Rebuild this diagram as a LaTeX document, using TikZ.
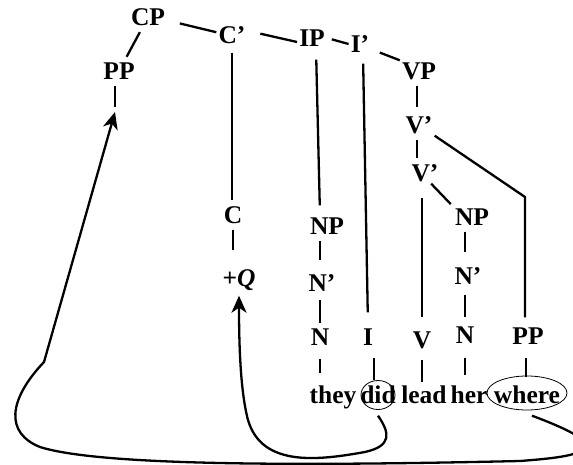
\documentclass[tikz,border=0pt]{standalone}
\usepackage{fontspec}
\setmainfont{Liberation Serif}
\usetikzlibrary{arrows.meta}

\begin{document}
\begin{tikzpicture}[x=1pt,y=-1pt]
            \tikzset{cat/.style = {font=\bfseries\fontsize{25.5}{25.5}\selectfont, inner sep=2pt, text height=17pt, text depth=0pt}}
            \tikzset{edge/.style = {draw=black, line width=2.3pt}}
            \tikzset{move/.style = {draw=black, line width=2.3pt, -{Stealth[length=17pt,width=15pt,inset=5pt]}}}
            \tikzset{gap/.style 2 args = {shorten <=#1pt, shorten >=#2pt}}
            \useasboundingbox (0,0) rectangle (573,465);
            \clip (0,0) rectangle (573,465);
            % vertices
            \node[cat] (cp) at (148,17) {CP};
            \node[cat] (pp1) at (119,71) {PP};
            \node[cat] (cb) at (232,35) {C'};
            \node[cat] (ip) at (312,38) {IP};
            \node[cat] (ib) at (360,44) {I'};
            \node[cat] (vp) at (419,71) {VP};
            \node[cat] (v1) at (419,125) {V'};
            \node[cat] (v2) at (425,173) {V'};
            \node[cat] (c) at (233,215) {C};
            \node[cat] (q) at (239,278) {+\textit{Q}};
            \node[cat] (np1) at (327,226) {NP};
            \node[cat] (nb1) at (322,283) {N'};
            \node[cat] (n1) at (320,337) {N};
            \node[cat] (i) at (368,337) {I};
            \node[cat] (v) at (422,340) {V};
            \node[cat] (np2) at (472,217) {NP};
            \node[cat] (nb2) at (468,276) {N'};
            \node[cat] (n2) at (465,335) {N};
            \node[cat] (pp2) at (528,336) {PP};
            % words
            \node[cat] (they) at (333,395) {they};
            \node[cat] (did) at (378,395) {did};
            \node[cat] (lead) at (424,395) {lead};
            \node[cat] (her) at (469,395) {her};
            \node[cat] (where) at (527,395) {where};
            \draw[line width=0.8pt] (did) ellipse [x radius=17pt, y radius=14.5pt];
            \draw[line width=0.8pt] ([yshift=2pt]where.center) ellipse [x radius=40pt, y radius=17pt];
            \coordinate (t) at (115,112);
            \coordinate (k) at (525,197);
            % edges
            \draw[edge,gap={13}{0}] (cp.-10) to (cb.170);
            \draw[edge,gap={13}{0}] (cb.15) to (ip.195);
            \draw[edge,gap={5}{0}] (ip.0) to (ib.180);
            \draw[edge,gap={9}{0}] (ib.-25) to (vp.north west);
            \draw[edge,gap={5}{4}] (cp) to (pp1);
            \draw[edge,gap={4}{5}] ([xshift=-4pt]pp1.south) to (t);
            \draw[edge,gap={7}{4}] (cb.south) to (cb.south |- c.north);
            \draw[edge,gap={4}{17}] (c.south) to (c.south |- q.north);
            \draw[edge,gap={11}{10}] ([xshift=4pt]ip.south) to (n1 |- np1.north);
            \draw[edge,gap={4}{12}] (n1 |- np1.south) to (n1 |- nb1.north);
            \draw[edge,gap={6}{3}] (n1 |- nb1.south) to (n1.north);
            \draw[edge,gap={11}{11}] (n1.south) to (n1.south |- they.north);
            \draw[edge,gap={9}{14}] ([xshift=3pt]ib.south) to (i.north);
            \draw[edge,gap={10}{4}] ([xshift=6pt]i.south) to ([xshift=6pt]i.south |- did.north);
            \draw[edge,gap={4}{7}] ([xshift=-2pt]vp.south) to ([xshift=-2pt]v1.north);
            \draw[edge,gap={4}{4}] ([xshift=-2pt]v1.south) to ([xshift=-2pt]v1.south |- v2.north);
            \draw[edge,gap={14}{12}] (v.north |- v2.south) to (v.north);
            \draw[edge,gap={9}{2}] (v.south) to (v.south |- lead.north);
            \draw[edge,gap={0}{3}] (v2.-60) to (np2.north west);
            \draw[edge,gap={4}{13}] (n2 |- np2.south) to (n2 |- nb2.north);
            \draw[edge,gap={8}{7}] (n2 |- nb2.south) to (n2.north);
            \draw[edge,gap={12}{9}] (n2.south) to (n2.south |- her.north);
            \draw[edge,gap={0}{8}] (v1.south east) to (k) to (k |- pp2.north);
            \draw[edge,gap={11}{7}] ([xshift=-2pt]pp2.south) to ([xshift=-2pt]pp2.south |- where.north);
            % movement
            \draw[move] ([yshift=-10pt]did.south) .. controls (390,433) and (392,446) .. (365,452) .. controls (320,460) and (262,468) .. (248,420) .. controls (240,390) and (239,340) .. ([yshift=-7pt]q.south);
            \draw[move] ([xshift=5pt,yshift=-10pt]where.south) .. controls (565,428) and (590,440) .. (585,447) .. controls (580,455) and (560,458) .. (520,461) .. controls (300,466) and (100,466) .. (40,447) .. controls (5,433) and (8,400) .. (44,362) -- (t);
\end{tikzpicture}
\end{document}
